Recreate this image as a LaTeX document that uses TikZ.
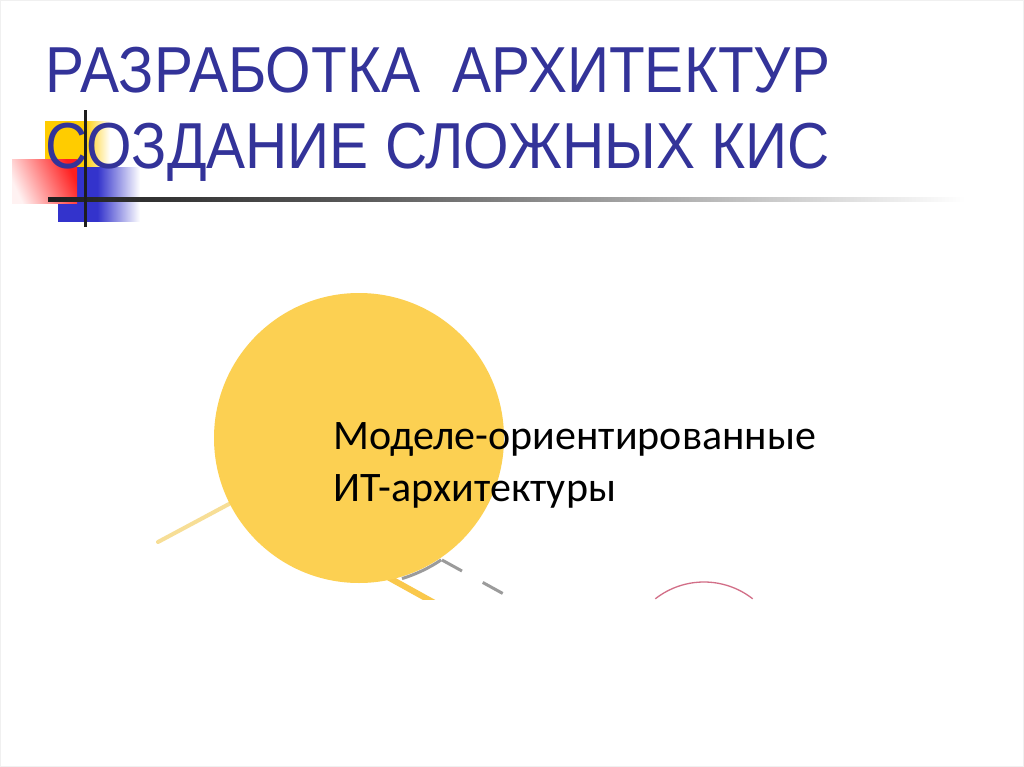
\documentclass[tikz,border=0pt]{standalone}
\usepackage{fontspec}
\setmainfont{Liberation Sans}
\newfontfamily\titlefont[FakeStretch=0.9]{Liberation Sans}
\newfontfamily\bodyfont{Carlito}
\definecolor{titleblue}{RGB}{51,51,153}
\definecolor{sunyellow}{RGB}{252,208,82}
\definecolor{paleyellow}{RGB}{247,222,150}
\definecolor{deepyellow}{RGB}{250,200,75}
\definecolor{squareyellow}{RGB}{255,204,0}
\definecolor{squareblue}{RGB}{51,51,204}
\definecolor{arcred}{RGB}{210,110,135}
\definecolor{dashgray}{RGB}{155,155,155}
\definecolor{ruledark}{RGB}{30,30,30}
\definecolor{rulemid}{RGB}{90,90,90}
\pgfdeclarehorizontalshading{yellowfade}{100bp}{color(0bp)=(squareyellow); color(55bp)=(squareyellow); color(75bp)=(white); color(100bp)=(white)}
\pgfdeclarehorizontalshading{bluefade}{100bp}{color(0bp)=(squareblue); color(49bp)=(squareblue); color(75bp)=(white); color(100bp)=(white)}
\pgfdeclarehorizontalshading{rulefade}{100bp}{color(0bp)=(ruledark); color(25bp)=(ruledark); color(42bp)=(rulemid); color(75bp)=(white); color(100bp)=(white)}
\tikzset{
  titletext/.style={anchor=base west, inner sep=0pt, text=titleblue, font=\titlefont\fontsize{65}{76}\selectfont},
  bodytext/.style={anchor=base west, inner sep=0pt, text=black, font=\bodyfont\fontsize{42}{52}\selectfont},
}
\begin{document}
\begin{tikzpicture}[x=1pt,y=-1pt]
\useasboundingbox (0,0) rectangle (1024,767);
\fill[white] (0,0) rectangle (1024,767);
\draw[gray!12, line width=1pt] (0.5,0.5) rectangle (1023.5,766.5);
% decoration squares
\shade[shading=yellowfade] (45,122) rectangle (110,168);
\shade[shading=bluefade] (58,168) rectangle (140,222);
\shade[top color=red!5, bottom color=red!88, shading angle=115] (12,160) rectangle (77,204);
% title
\node (t1) [titletext] at (45,93) {РАЗРАБОТКА~~АРХИТЕКТУР};
\node (t2) [titletext] at (45,169) {СОЗДАНИЕ СЛОЖНЫХ КИС};
% rules
\shade[shading=rulefade] (48,198) rectangle (965,202);
\fill[ruledark] (83.5,110) rectangle (86.5,227);
% diagram
\begin{scope}
\clip (0,0) rectangle (1024,599);
\draw[paleyellow, line width=4pt, line cap=round] (158,542) -- (300,466);
\draw[deepyellow, line width=6pt] (375,570) -- (440,606);
\node (sun) [circle, fill=sunyellow, minimum size=290pt, inner sep=0pt] at (359,438) {};
\draw[dashgray, line width=3pt] ([shift={(-73:147pt)}]359,438) arc[start angle=-73, end angle=-56, radius=147pt];
\draw[dashgray, line width=3pt, dash pattern=on 22.8pt off 23.7pt] (442,560) -- (540,614);
\draw[arcred, line width=1.3pt] ([shift={(128:79pt)}]704,661) arc[start angle=128, end angle=52, radius=79pt];
\end{scope}
\node (m1) [bodytext] at (333,449) {Моделе-ориентированные};
\node (m2) [bodytext] at (333,501) {ИТ-архитектуры};
\end{tikzpicture}
\end{document}
